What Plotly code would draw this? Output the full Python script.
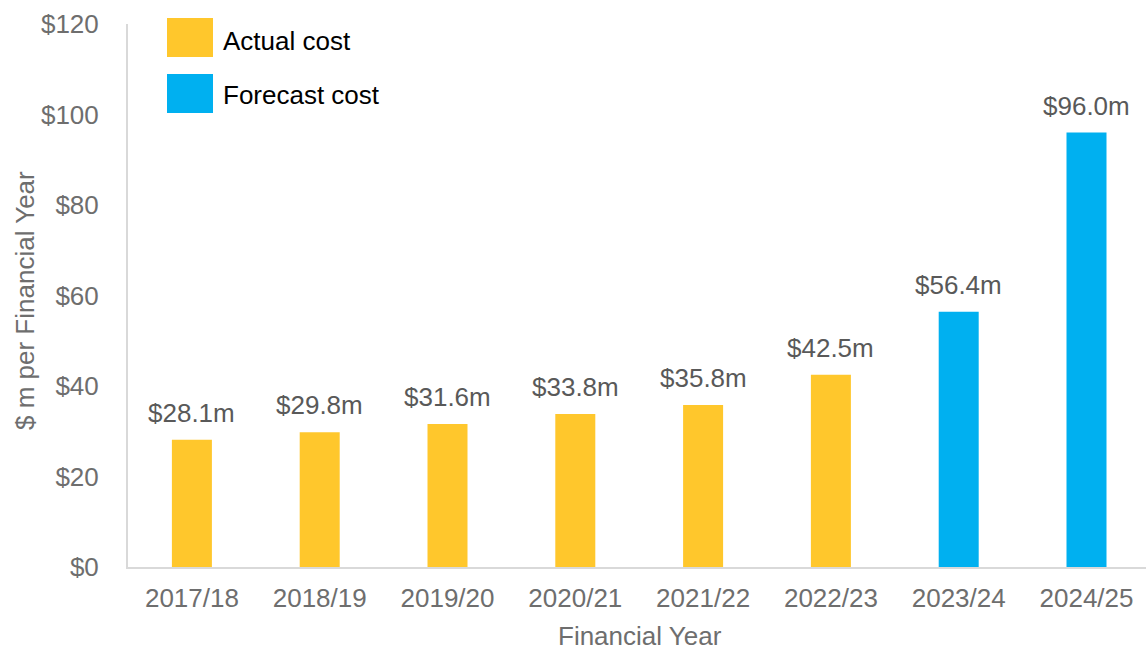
import plotly.graph_objects as go

# Financial years and yearly cost ($ million)
years = ["2017/18", "2018/19", "2019/20", "2020/21", "2021/22", "2022/23", "2023/24", "2024/25"]
actual_years = years[:6]
actual_cost = [28.1, 29.8, 31.6, 33.8, 35.8, 42.5]
forecast_years = years[6:]
forecast_cost = [56.4, 96.0]
series_names = ["Actual cost", "Forecast cost"]
y_ticks = [0, 20, 40, 60, 80, 100, 120]
y_tick_labels = ["$0", "$20", "$40", "$60", "$80", "$100", "$120"]

W, H = 1146, 653
ML, MR, MT, MB = 128, 0, 24, 86
PW, PH = W - ML - MR, H - MT - MB

YELLOW = "#FFC72C"
BLUE = "#00B0F0"
LABEL_TXT = "#595959"
AXIS_TXT = "#6E6E6E"
AXIS_CLR = "#D9D9D9"
FONT = "Liberation Sans, Arial, sans-serif"
FS = 26


def px_x(px):
    return (px - ML) / PW


def px_y(py):
    return (H - MB - py) / PH


fig = go.Figure()
fig.add_trace(go.Bar(x=actual_years, y=actual_cost, name=series_names[0],
                     marker=dict(color=YELLOW, line=dict(width=0)), width=0.313))
fig.add_trace(go.Bar(x=forecast_years, y=forecast_cost, name=series_names[1],
                     marker=dict(color=BLUE, line=dict(width=0)), width=0.313))

annotations = []
# value labels above each bar
for xs, vs in ((actual_years, actual_cost), (forecast_years, forecast_cost)):
    for x, v in zip(xs, vs):
        annotations.append(dict(x=x, y=v, xref="x", yref="y", text=f"${v:.1f}m",
                                showarrow=False, yanchor="bottom", yshift=10,
                                font=dict(family=FONT, size=FS, color=LABEL_TXT)))

# axis titles
annotations.append(dict(x=px_x(640), y=px_y(636), xref="paper", yref="paper",
                        text="Financial Year", showarrow=False,
                        xanchor="center", yanchor="middle",
                        font=dict(family=FONT, size=FS, color=AXIS_TXT)))
annotations.append(dict(x=px_x(25), y=px_y(301), xref="paper", yref="paper",
                        text="$ m per Financial Year", showarrow=False, textangle=-90,
                        xanchor="center", yanchor="middle",
                        font=dict(family=FONT, size=FS, color=AXIS_TXT)))

# legend: coloured squares with labels
shapes = []
for (top, bot, ty), color, name in zip(((18, 57, 41), (74, 113, 95)), (YELLOW, BLUE), series_names):
    shapes.append(dict(type="rect", xref="paper", yref="paper",
                       x0=px_x(167), x1=px_x(213), y0=px_y(bot), y1=px_y(top),
                       fillcolor=color, line=dict(width=0)))
    annotations.append(dict(x=px_x(221), y=px_y(ty), xref="paper", yref="paper",
                            text=name, showarrow=False, xanchor="left", yanchor="middle",
                            font=dict(family=FONT, size=FS, color="#000000")))

fig.update_layout(
    width=W, height=H,
    margin=dict(l=ML, r=MR, t=MT, b=MB, pad=0),
    paper_bgcolor="white", plot_bgcolor="white",
    barmode="overlay", showlegend=False,
    annotations=annotations, shapes=shapes,
    font=dict(family=FONT, size=FS, color=AXIS_TXT),
    xaxis=dict(type="category", range=[-0.5, -0.5 + PW / 127.8],
               showline=True, linecolor=AXIS_CLR, linewidth=2, showgrid=False,
               ticks="", ticklabelstandoff=7, zeroline=False,
               tickfont=dict(family=FONT, size=FS, color=AXIS_TXT)),
    yaxis=dict(range=[0, 120], tickvals=y_ticks, ticktext=y_tick_labels,
               showline=True, linecolor=AXIS_CLR, linewidth=2, showgrid=False,
               ticks="", ticklabelstandoff=22, zeroline=False,
               tickfont=dict(family=FONT, size=FS, color=AXIS_TXT)),
)

fig.write_html("out.html")
